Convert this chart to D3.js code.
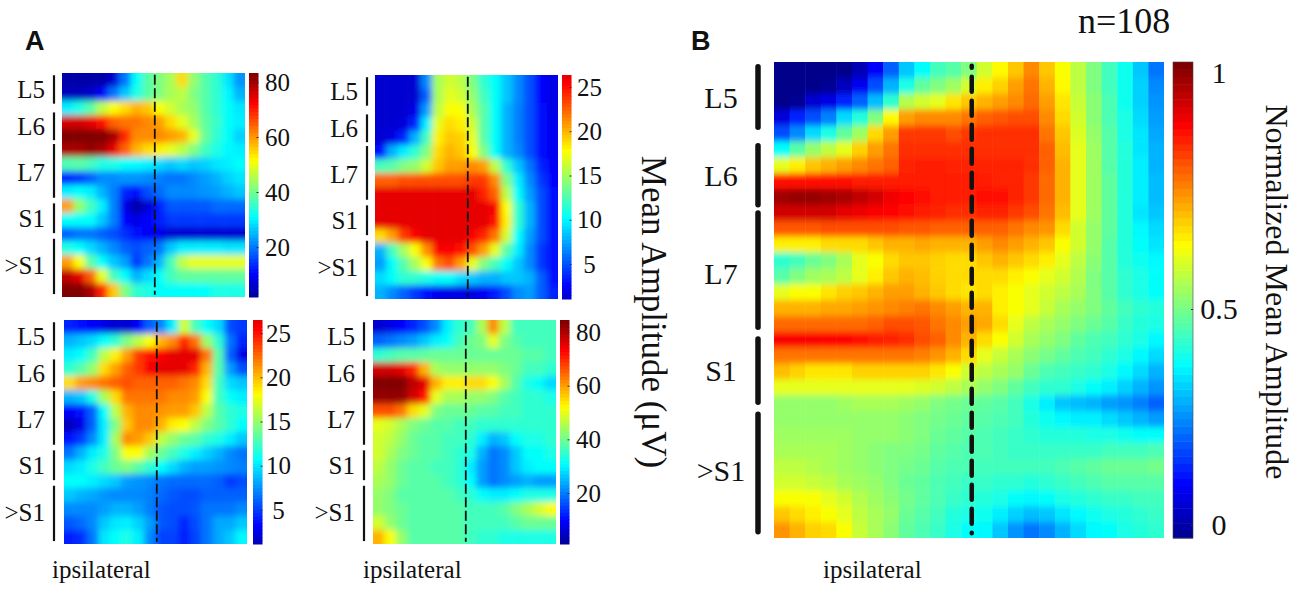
<!DOCTYPE html>
<html lang="en">
<head>
    <meta charset="UTF-8">
    <title>Mean Amplitude Maps</title>
    <script src="https://d3js.org/d3.v7.min.js"></script>
    <style>
        body { margin: 0; background-color: #fff; }
        svg { display: block; }
        text { font-family: "Liberation Serif", serif; fill: #111; }
        .letter { font-family: "Liberation Sans", sans-serif; font-weight: bold; font-size: 27px; }
    </style>
</head>
<body>
    <svg width="1300" height="606"></svg>

    <script>
        // spinal levels, extents given as a share of the map height
        const layerNames = ["L5", "L6", "L7", "S1", ">S1"];
        const layerStart = [0.01, 0.176, 0.317, 0.582, 0.74];
        const layerEnd = [0.137, 0.30, 0.557, 0.715, 0.987];
        const layerLabelAt = [0.075, 0.24, 0.445, 0.65, 0.86];

        const ticksA1 = [20, 40, 60, 80];
        const ticksA2 = [5, 10, 15, 20, 25];
        const ticksA3 = [5, 10, 15, 20, 25];
        const ticksA4 = [20, 40, 60, 80];
        const ticksB = [0, 0.5, 1];

        // cell values, in percent of the colour range
        const cellsA1 = [
            [4,4,4,4,8,24,38,46,50,54,66,52,46,42,35,27],
            [6,6,7,12,24,32,40,46,50,54,56,50,46,42,37,30],
            [36,40,46,56,62,66,70,68,62,58,54,52,46,42,38,35],
            [92,92,90,86,78,76,76,74,72,66,60,54,47,43,38,36],
            [100,100,100,100,96,84,74,74,74,72,70,60,48,42,38,33],
            [96,96,98,96,90,78,70,66,64,60,56,50,44,40,37,36],
            [45,46,44,40,40,38,37,36,34,32,34,32,33,35,36,38],
            [16,18,22,26,26,27,27,26,25,24,24,26,28,30,33,35],
            [36,38,36,30,25,16,14,20,23,26,26,26,27,28,30,32],
            [72,52,44,36,25,10,4,8,15,21,21,21,21,23,23,23],
            [38,38,38,32,25,13,10,13,15,18,18,18,18,18,18,18],
            [22,24,24,22,20,17,14,12,10,8,8,8,8,8,8,8],
            [40,38,34,30,26,22,20,22,24,32,36,36,36,36,35,35],
            [72,62,46,38,32,28,18,24,30,44,56,60,60,60,60,60],
            [94,90,78,60,44,38,30,34,38,44,47,47,47,47,47,47],
            [100,100,96,84,68,50,42,40,38,38,38,38,38,40,40,40]
        ];
        const cellsA2 = [
            [8,8,8,8,26,54,58,56,50,42,38,32,26,20,13,10],
            [8,8,8,8,22,54,60,58,52,44,38,32,26,20,13,10],
            [8,8,8,10,28,56,62,62,54,46,38,30,25,20,14,10],
            [8,8,9,16,36,60,66,64,58,46,38,30,25,20,14,11],
            [8,10,16,30,44,64,68,67,60,46,38,30,25,20,14,11],
            [14,30,36,42,50,66,70,68,62,50,38,30,26,20,14,11],
            [44,46,50,52,58,68,72,72,74,72,56,42,32,24,16,12],
            [78,78,80,80,80,80,80,80,82,82,74,50,36,26,18,13],
            [90,90,90,90,90,90,90,90,90,84,78,56,38,28,20,14],
            [90,90,90,90,90,90,90,90,90,90,88,62,42,30,20,14],
            [90,90,90,90,90,90,90,90,90,90,86,64,42,30,20,14],
            [66,72,82,88,90,90,90,90,88,84,76,58,38,28,20,14],
            [30,44,54,62,74,88,88,86,80,72,60,46,36,26,18,14],
            [28,38,46,54,62,76,80,72,60,50,44,38,32,26,18,14],
            [34,38,42,42,40,38,38,34,32,30,30,32,32,30,22,14],
            [30,26,22,18,14,11,10,10,10,11,15,20,26,28,22,16]
        ];
        const cellsA3 = [
            [16,14,12,10,8,8,12,22,26,36,58,44,38,34,20,18],
            [30,32,34,38,42,50,56,62,70,74,84,76,52,42,24,16],
            [36,38,44,56,64,72,82,86,88,90,90,90,76,46,22,10],
            [42,46,52,66,72,78,82,88,90,90,90,84,70,46,28,20],
            [66,72,74,76,78,80,78,78,78,78,76,74,66,44,34,32],
            [30,32,40,54,66,76,76,76,76,74,74,72,62,44,38,36],
            [12,14,22,38,56,70,74,74,73,72,72,68,56,46,42,40],
            [6,10,22,36,50,68,74,74,70,64,62,56,50,46,42,38],
            [14,18,26,36,54,74,72,68,56,52,48,46,42,40,36,32],
            [24,30,36,40,50,62,62,54,48,44,40,36,33,30,26,24],
            [34,36,40,44,48,50,46,42,38,34,30,28,28,27,26,25],
            [38,38,36,34,32,28,27,26,24,23,23,23,23,22,18,20],
            [32,30,29,27,26,26,26,25,23,21,20,20,22,22,22,22],
            [26,26,26,28,30,30,28,25,21,20,20,21,24,24,24,26],
            [21,23,26,32,35,36,33,28,21,20,16,20,24,29,29,32],
            [15,17,24,35,38,40,36,26,19,19,15,19,24,29,32,37]
        ];
        const cellsA4 = [
            [8,10,12,16,20,26,36,42,44,54,74,56,44,44,44,44],
            [22,24,26,28,32,36,38,44,48,50,60,50,46,44,44,44],
            [42,44,46,46,47,48,48,48,48,48,48,48,48,46,46,44],
            [92,92,90,84,70,54,52,52,52,52,52,50,48,44,44,42],
            [100,100,100,94,90,70,64,64,66,66,62,54,46,40,38,34],
            [98,98,98,92,86,60,54,54,52,52,50,46,44,42,42,40],
            [80,80,76,66,60,50,48,48,48,46,46,44,44,42,42,42],
            [60,58,54,50,48,46,46,44,44,42,42,42,42,42,42,42],
            [58,56,52,48,46,46,44,44,42,36,30,32,38,40,40,42],
            [58,54,50,48,46,46,44,42,40,30,24,26,32,38,38,40],
            [56,52,48,46,46,44,44,42,36,28,24,26,32,36,38,38],
            [54,52,48,46,46,46,44,42,38,28,24,26,28,30,28,28],
            [52,50,46,46,46,46,46,44,42,38,36,36,38,40,40,40],
            [52,50,48,46,46,46,46,46,44,44,44,46,50,54,58,62],
            [58,52,48,46,46,46,46,46,44,44,44,44,46,48,48,48],
            [70,62,52,46,46,46,46,46,44,42,42,40,40,40,40,40]
        ];
        const cellsB = [
            [1,1,1,1,1,5,12,22,32,38,44,46,50,58,63,68,74,68,62,56,50,44,39,32,24],
            [1,1,1,2,6,11,20,30,40,47,50,53,58,64,67,72,76,70,63,56,50,44,39,33,26],
            [1,2,8,10,16,22,31,42,55,58,60,65,68,70,72,74,77,72,65,57,51,45,39,33,27],
            [9,16,20,25,34,41,50,63,72,74,74,74,76,78,79,80,80,74,66,58,51,45,40,34,28],
            [20,26,34,40,47,53,66,72,82,82,82,80,82,83,83,83,83,76,68,59,52,46,40,35,29],
            [38,46,52,56,60,67,72,76,83,83,83,83,83,83,83,83,83,78,69,60,53,46,41,35,30],
            [60,64,68,70,72,74,76,78,84,85,85,84,84,84,84,84,83,78,70,60,53,46,41,36,30],
            [86,86,86,86,86,85,85,85,85,85,85,85,85,85,84,84,82,77,70,60,53,47,41,36,31],
            [97,98,98,97,96,94,92,89,87,86,85,85,85,86,86,84,82,77,70,60,53,47,41,36,31],
            [92,92,92,92,90,89,88,87,86,85,84,83,83,84,84,82,80,76,69,60,53,47,41,35,32],
            [79,79,79,80,80,80,80,80,79,79,78,78,78,78,78,76,74,73,66,58,52,47,41,37,34],
            [64,64,64,66,66,66,68,70,70,71,70,70,70,72,74,72,70,68,62,58,52,46,41,38,35],
            [42,44,48,50,54,60,62,66,68,68,67,66,66,68,70,68,66,64,60,56,51,46,41,39,37],
            [46,50,53,54,56,60,64,68,70,69,67,66,66,66,66,64,62,60,58,55,50,46,42,40,38],
            [60,62,62,65,67,68,70,72,72,70,68,66,65,66,64,62,60,58,56,54,50,46,42,40,38],
            [70,70,70,71,71,72,73,74,75,76,74,72,70,70,64,62,60,57,54,52,50,47,44,42,41],
            [77,77,77,77,77,77,78,80,80,79,76,74,72,71,66,60,56,54,52,50,48,46,43,41,40],
            [88,88,88,87,87,86,85,84,83,80,78,74,70,66,62,58,54,52,50,47,45,44,42,40,37],
            [76,76,76,76,76,76,76,76,76,75,73,70,66,60,57,54,51,49,47,45,44,42,40,37,34],
            [69,67,65,65,65,67,67,67,67,67,65,62,58,56,54,52,48,45,44,43,42,40,37,34,30],
            [60,60,60,60,60,60,60,60,60,59,58,56,54,52,50,47,44,42,42,40,38,36,33,30,27],
            [52,52,52,52,53,54,54,54,53,52,50,49,48,47,46,44,40,36,32,31,30,28,27,25,22],
            [52,52,52,52,52,52,52,52,51,50,49,48,47,46,45,44,41,39,37,36,36,34,32,30,28],
            [53,53,53,53,53,52,52,52,51,50,48,47,46,45,44,43,42,41,41,41,40,40,39,38,38],
            [54,54,54,54,53,52,51,50,50,49,47,46,45,45,44,43,43,43,43,43,43,44,44,44,45],
            [56,56,55,54,53,52,51,50,49,48,46,45,45,44,44,44,44,44,45,46,47,48,48,48,49],
            [58,58,57,56,54,53,52,50,48,47,45,44,43,43,42,42,41,42,43,44,45,46,46,46,46],
            [62,62,62,60,58,55,53,51,49,47,45,43,42,41,40,38,37,38,40,41,42,43,43,44,44],
            [68,66,64,62,60,56,54,52,48,46,44,41,40,39,36,33,31,32,35,37,39,40,41,42,43],
            [73,70,67,66,62,57,54,51,47,45,43,40,38,37,32,27,24,26,30,34,37,38,40,41,42]
        ];

        const svg = d3.select("svg");
        const defs = svg.append("defs");

        // jet colour map
        const jet = d3.scaleLinear()
            .domain([0, 12.5, 37.5, 62.5, 87.5, 100])
            .range(["#000080", "#0000ff", "#00ffff", "#ffff00", "#ff0000", "#800000"])
            .clamp(true);

        function blurFilter(id, dev) {
            defs.append("filter")
                .attr("id", id)
                .attr("x", "-10%").attr("y", "-10%")
                .attr("width", "120%").attr("height", "120%")
                .append("feGaussianBlur")
                .attr("stdDeviation", dev);
        }
        blurFilter("soft", "3.4 3");
        blurFilter("softB", "0.6 3");

        function drawMap(p, i) {
            const nCols = p.cells[0].length;
            const nRows = p.cells.length;
            const x = d3.scaleBand().domain(d3.range(nCols)).range([p.x, p.x + p.w]);
            const y = d3.scaleBand().domain(d3.range(nRows)).range([p.y, p.y + p.h]);
            const over = 14;  // edge cells run past the clip so the blur does not fade there

            defs.append("clipPath").attr("id", "clip" + i)
                .append("rect")
                .attr("x", p.x).attr("y", p.y)
                .attr("width", p.w).attr("height", p.h);

            const cells = svg.append("g")
                .attr("clip-path", "url(#clip" + i + ")")
                .append("g")
                .attr("filter", "url(#" + p.blur + ")");

            p.cells.forEach((row, r) => {
                cells.selectAll(null)
                    .data(row)
                    .enter().append("rect")
                    .attr("x", (d, c) => x(c) - (c === 0 ? over : 0))
                    .attr("y", y(r) - (r === 0 ? over : 0))
                    .attr("width", (d, c) => x.bandwidth() + 0.5 + (c === 0 || c === nCols - 1 ? over : 0))
                    .attr("height", y.bandwidth() + 0.5 + (r === 0 || r === nRows - 1 ? over : 0))
                    .attr("fill", d => jet(d));
            });

            // ipsilateral / contralateral divide
            svg.append("line")
                .attr("x1", p.x + p.w * 0.507).attr("x2", p.x + p.w * 0.507)
                .attr("y1", p.y + p.h * 0.008).attr("y2", p.y + p.h * 0.99)
                .attr("stroke", "#111")
                .attr("stroke-width", p.dashWidth)
                .attr("stroke-linecap", p.big ? "round" : "butt")
                .attr("stroke-dasharray", p.dash)
                .attr("stroke-dashoffset", p.big ? 13 : 0);

            // level brackets and names
            const depth = d3.scaleLinear().domain([0, 1]).range([p.y, p.y + p.h]);
            layerNames.forEach((name, k) => {
                svg.append("line")
                    .attr("x1", p.barX).attr("x2", p.barX)
                    .attr("y1", depth(layerStart[k])).attr("y2", depth(layerEnd[k]))
                    .attr("stroke", "#111")
                    .attr("stroke-width", p.big ? 5.5 : 2.2)
                    .attr("stroke-linecap", p.big ? "round" : "butt");

                svg.append("text")
                    .attr("x", p.big ? p.barX - 37 : p.barX - 9)
                    .attr("y", depth(layerLabelAt[k]))
                    .attr("dy", "0.33em")
                    .attr("text-anchor", p.big ? "middle" : "end")
                    .attr("font-size", p.labelSize)
                    .text(name);
            });

            // colour bar
            const steps = d3.range(64);
            const barY = d3.scaleBand().domain(steps).range([p.y + p.h, p.y]);
            const barColor = d3.scaleLinear().domain([0, 63]).range(p.barRange);
            svg.append("g").selectAll("rect")
                .data(steps)
                .enter().append("rect")
                .attr("x", p.barLeft)
                .attr("y", d => barY(d))
                .attr("width", p.barWidth)
                .attr("height", barY.bandwidth() + 0.5)
                .attr("fill", d => jet(barColor(d)));

            if (p.big) {
                svg.append("rect")
                    .attr("x", p.barLeft).attr("y", p.y)
                    .attr("width", p.barWidth).attr("height", p.h)
                    .attr("fill", "none")
                    .attr("stroke", "#444")
                    .attr("stroke-width", 0.6);
            }

            const axis = d3.axisRight(p.tickScale)
                .tickValues(p.ticks)
                .tickSize(-2)
                .tickFormat(d => d);
            const axisG = svg.append("g")
                .attr("transform", "translate(" + (p.barLeft + p.barWidth) + ",0)")
                .call(axis);
            axisG.select(".domain").remove();
            axisG.selectAll("line").attr("stroke", "#333");
            axisG.selectAll("text")
                .attr("x", p.tickPad)
                .attr("text-anchor", "middle")
                .attr("font-size", p.labelSize)
                .attr("fill", "#111");

            if (p.showIpsi !== undefined) {
                svg.append("text")
                    .attr("x", p.showIpsi)
                    .attr("y", 578)
                    .attr("font-size", 25)
                    .text("ipsilateral");
            }
        }

        const small = { blur: "soft", w: 183, h: 224, dash: "10,3.5", dashWidth: 1.8, labelSize: 25, barWidth: 9.5 };

        const panels = [
            Object.assign({}, small, {
                cells: cellsA1, x: 62, y: 73, barX: 54, barLeft: 249, barRange: [3, 100], tickPad: 19,
                ticks: ticksA1, tickScale: d3.scaleLinear().domain([20, 80]).range([247, 82])
            }),
            Object.assign({}, small, {
                cells: cellsA2, x: 375, y: 75, barX: 367, barLeft: 562, barRange: [8, 90], tickPad: 18,
                ticks: ticksA2, tickScale: d3.scaleLinear().domain([5, 25]).range([264, 87])
            }),
            Object.assign({}, small, {
                cells: cellsA3, x: 64, y: 320, barX: 54, barLeft: 253, barRange: [6, 90], tickPad: 16,
                ticks: ticksA3, tickScale: d3.scaleLinear().domain([5, 25]).range([510, 333]), showIpsi: 52
            }),
            Object.assign({}, small, {
                cells: cellsA4, x: 373, y: 320, barX: 364, barLeft: 560, barRange: [3, 100], tickPad: 19,
                ticks: ticksA4, tickScale: d3.scaleLinear().domain([20, 80]).range([493, 332]), showIpsi: 363
            }),
            {
                big: true, blur: "softB", cells: cellsB, x: 774, y: 62, w: 390, h: 476, barX: 758,
                dash: "15,9", dashWidth: 4.5, labelSize: 30, barLeft: 1173, barWidth: 20, barRange: [2, 100], tickPad: 26,
                ticks: ticksB, tickScale: d3.scaleLinear().domain([0, 0.5, 1]).range([525, 309, 73]), showIpsi: 823
            }
        ];
        panels.forEach(drawMap);

        // other text
        svg.append("text").attr("class", "letter").attr("x", 25).attr("y", 50).text("A");
        svg.append("text").attr("class", "letter").attr("x", 691).attr("y", 50).text("B");
        svg.append("text").attr("x", 1078).attr("y", 33).attr("font-size", 36).text("n=108");

        svg.append("text")
            .attr("transform", "translate(642,312) rotate(90)")
            .attr("text-anchor", "middle")
            .attr("font-size", 35)
            .text("Mean Amplitude (μV)");

        svg.append("text")
            .attr("transform", "translate(1266,292) rotate(90)")
            .attr("text-anchor", "middle")
            .attr("font-size", 32)
            .text("Normalized Mean Amplitude");
    </script>
</body>
</html>
